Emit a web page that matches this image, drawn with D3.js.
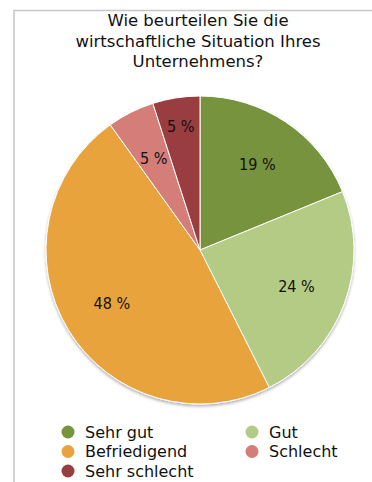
<!DOCTYPE html>
<html>
<head>
<meta charset="utf-8">
<script src="https://cdn.jsdelivr.net/npm/d3@7"></script>
<style>
  body { margin: 0; background: #fff; }
  svg { display: block; font-family: "DejaVu Sans", sans-serif; }
  .lbl { font-family: "DejaVu Sans Condensed", "DejaVu Sans", sans-serif; font-stretch: condensed; }
</style>
</head>
<body>
<div class="canvas"></div>
<script>
// data
const categories = ["Sehr gut", "Gut", "Befriedigend", "Schlecht", "Sehr schlecht"];
const values = [19, 24, 48, 5, 5];
const colors = ["#77933c", "#b3cb84", "#e8a33e", "#d47d79", "#9a3d3f"];
const titleLines = ["Wie beurteilen Sie die", "wirtschaftliche Situation Ihres", "Unternehmens?"];

const width = 372;
const height = 482;
const cx = 200;
const cy = 250;
const radius = 154;

const svg = d3
  .select(".canvas")
  .append("svg")
  .attr("width", width)
  .attr("height", height);

// frame lines (top + left)
svg.append("path")
  .attr("d", `M14,${height} L14,10.5 L${width},10.5`)
  .attr("fill", "none")
  .attr("stroke", "#c6c6c6")
  .attr("stroke-width", 1.5);

// title
svg.append("g")
  .selectAll("text")
  .data(titleLines)
  .enter()
  .append("text")
  .attr("x", 198)
  .attr("y", (d, i) => 26 + i * 20.5)
  .attr("text-anchor", "middle")
  .attr("font-size", 16.5)
  .attr("fill", "#111")
  .text(d => d);

// shadow filter
const defs = svg.append("defs");
const shadow = defs.append("filter").attr("id", "shadow")
  .attr("x", "-10%").attr("y", "-10%").attr("width", "120%").attr("height", "120%");
shadow.append("feDropShadow")
  .attr("dx", 0).attr("dy", 2).attr("stdDeviation", 1.5)
  .attr("flood-color", "#000").attr("flood-opacity", 0.3);

const pie = d3.pie().sort(null).value(d => d);
const arcs = pie(values);

const arc = d3.arc().innerRadius(0).outerRadius(radius);

const graph = svg.append("g")
  .attr("transform", `translate(${cx}, ${cy})`);

graph.append("g")
  .attr("filter", "url(#shadow)")
  .selectAll("path")
  .data(arcs)
  .enter()
  .append("path")
  .attr("d", arc)
  .attr("fill", (d, i) => colors[i])
  .attr("stroke", "#fff")
  .attr("stroke-width", 1);

// data labels
const labelArc = d3.arc().innerRadius(103).outerRadius(103);
const labelArcOuter = d3.arc().innerRadius(125).outerRadius(125);

graph.append("g")
  .selectAll("text")
  .data(arcs)
  .enter()
  .append("text")
  .attr("class", "lbl")
  .attr("transform", (d, i) => `translate(${(i === 4 ? labelArcOuter : labelArc).centroid(d)})`)
  .attr("text-anchor", "middle")
  .attr("dy", "0.35em")
  .attr("font-size", 16)
  .attr("fill", "#111")
  .text(d => d.data + " %");

// legend
const legendX = [68, 252];
const legendY = 432;
const legendRow = 19.5;

const legend = svg.append("g")
  .selectAll("g")
  .data(categories)
  .enter()
  .append("g")
  .attr("transform", (d, i) => `translate(${legendX[i % 2]}, ${legendY + Math.floor(i / 2) * legendRow})`);

legend.append("circle")
  .attr("r", 6.5)
  .attr("fill", (d, i) => colors[i]);

legend.append("text")
  .attr("x", 17)
  .attr("dy", "0.35em")
  .attr("font-size", 16)
  .attr("fill", "#111")
  .text(d => d);
</script>
</body>
</html>
